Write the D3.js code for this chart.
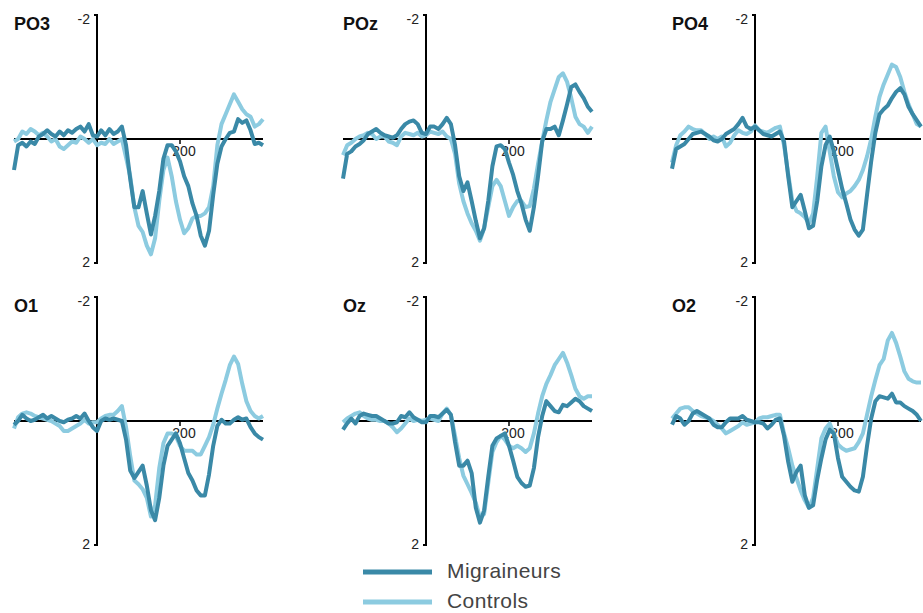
<!DOCTYPE html>
<html>
<head>
<meta charset="utf-8">
<script src="https://cdn.jsdelivr.net/npm/d3@7"></script>
<style>
  body { margin: 0; background: #fff; }
  svg { display: block; font-family: "Liberation Sans", Arial, sans-serif; }
</style>
</head>
<body>
<div id="chart"></div>
<script>
// ERP grand averages, Migraineurs vs Controls (negative up)

const width = 923;
const height = 613;

// sample times in ms, every 10 ms from -200 to 400
const times = d3.range(-200, 401, 10);

const channels = ["PO3", "POz", "PO4", "O1", "Oz", "O2"];
const groups = ["Migraineurs", "Controls"];
const xTicks = [200];
const yTicks = [-2, 2];

const po3Mig = [0.5,0.1,0.06,0.12,0.04,0.08,-0.04,-0.08,-0.14,-0.08,-0.04,-0.12,-0.06,-0.14,-0.1,-0.16,-0.2,-0.12,-0.24,-0.06,
  -0.04,-0.14,-0.06,-0.16,-0.08,-0.12,-0.2,0.1,0.64,1.1,1.1,0.84,1.2,1.54,1.24,0.84,0.32,0.1,0.1,0.2,
  0.36,0.6,0.76,1.04,1.24,1.56,1.72,1.48,0.9,0.4,0.12,0.0,-0.1,-0.12,-0.32,-0.26,-0.3,-0.14,0.08,0.06,0.1];
const po3Con = [0.04,0.0,-0.12,-0.08,-0.16,-0.12,-0.06,-0.1,-0.04,0.04,0.0,0.12,0.16,0.1,0.04,0.06,-0.04,0.0,0.06,0.0,
  0.1,0.06,0.08,0.0,0.08,0.04,0.0,0.3,0.6,1.1,1.4,1.5,1.72,1.86,1.6,1.0,0.5,0.3,0.6,1.0,
  1.3,1.52,1.44,1.28,1.24,1.24,1.2,1.1,0.76,0.1,-0.24,-0.4,-0.56,-0.72,-0.6,-0.48,-0.4,-0.36,-0.2,-0.24,-0.32];

const pozMig = [0.64,0.24,0.2,0.12,0.08,0.02,-0.08,-0.12,-0.16,-0.1,-0.06,-0.04,-0.02,-0.06,-0.16,-0.24,-0.28,-0.3,-0.24,-0.1,
  -0.08,-0.2,-0.2,-0.16,-0.24,-0.34,-0.24,0.1,0.6,0.84,0.7,1.0,1.32,1.6,1.44,1.0,0.44,0.12,0.1,0.16,
  0.38,0.58,0.84,1.04,1.3,1.48,1.1,0.6,0.04,-0.16,-0.16,-0.2,-0.06,-0.3,-0.56,-0.84,-0.88,-0.76,-0.66,-0.52,-0.44];
const pozCon = [0.26,0.1,0.06,0.0,-0.04,-0.06,-0.1,-0.08,0.0,-0.04,-0.04,0.04,0.06,0.1,-0.04,-0.1,-0.08,-0.06,-0.1,-0.04,
  -0.06,-0.12,-0.1,-0.08,-0.12,-0.04,0.0,0.24,0.72,1.0,1.2,1.36,1.48,1.64,1.44,1.1,0.76,0.66,0.76,1.0,
  1.24,1.1,1.0,1.0,1.1,1.08,0.8,0.4,0.04,-0.3,-0.6,-0.8,-1.0,-1.06,-0.92,-0.66,-0.36,-0.24,-0.2,-0.1,-0.2];

const po4Mig = [0.48,0.16,0.12,0.08,0.0,-0.08,-0.1,-0.12,-0.08,-0.04,0.02,0.04,0.0,-0.08,-0.12,-0.16,-0.24,-0.34,-0.2,-0.16,
  -0.2,-0.14,-0.08,-0.06,-0.04,-0.08,-0.12,0.04,0.6,1.1,1.0,0.9,1.16,1.44,1.4,1.0,0.44,0.1,-0.04,0.2,
  0.5,0.8,1.04,1.3,1.46,1.56,1.46,0.9,0.36,-0.1,-0.4,-0.48,-0.54,-0.66,-0.76,-0.82,-0.72,-0.52,-0.4,-0.3,-0.2];
const po4Con = [0.38,0.1,-0.06,-0.12,-0.2,-0.16,-0.14,-0.14,-0.08,0.0,-0.04,0.0,-0.04,0.12,0.06,-0.06,-0.14,-0.1,-0.08,-0.12,
  -0.22,-0.14,-0.12,-0.1,-0.14,-0.18,-0.2,0.1,0.56,1.0,1.16,1.2,1.26,1.36,1.2,0.6,-0.1,-0.2,0.2,0.6,
  0.86,0.94,0.88,0.84,0.76,0.66,0.5,0.28,0.0,-0.36,-0.68,-0.88,-1.04,-1.2,-1.16,-1.0,-0.76,-0.56,-0.4,-0.24,-0.2];

const o1Mig = [0.06,0.0,-0.1,-0.04,0.0,-0.02,-0.06,-0.1,-0.04,-0.08,-0.04,0.0,0.02,-0.02,-0.04,-0.08,-0.04,-0.12,0.0,0.1,
  0.16,0.0,-0.04,-0.02,-0.04,-0.02,0.0,0.3,0.8,0.92,0.82,0.72,1.04,1.44,1.6,1.24,0.72,0.4,0.3,0.2,
  0.36,0.6,0.84,0.96,1.12,1.2,1.2,0.86,0.4,0.08,-0.02,0.04,0.04,-0.02,-0.06,-0.02,-0.04,0.1,0.2,0.26,0.3];
const o1Con = [0.12,-0.06,-0.12,-0.14,-0.12,-0.08,-0.06,-0.04,-0.02,0.0,0.04,0.08,0.16,0.16,0.12,0.08,0.04,-0.02,0.04,0.02,
  0.02,-0.04,-0.08,-0.1,-0.1,-0.16,-0.24,0.1,0.56,0.96,1.02,1.1,1.24,1.54,1.36,0.76,0.36,0.2,0.2,0.24,
  0.4,0.48,0.48,0.48,0.54,0.54,0.4,0.26,0.06,-0.2,-0.44,-0.66,-0.9,-1.04,-0.92,-0.6,-0.32,-0.16,-0.08,-0.04,-0.08];

const ozMig = [0.14,0.04,-0.04,0.04,-0.08,-0.12,-0.1,-0.08,-0.08,-0.04,0.0,0.04,0.04,0.02,-0.08,-0.06,-0.14,-0.06,-0.02,0.02,
  0.02,-0.08,-0.08,-0.06,-0.12,-0.18,-0.1,0.34,0.72,0.72,0.64,0.84,1.4,1.64,1.44,0.9,0.4,0.28,0.24,0.2,
  0.4,0.64,0.9,1.0,1.06,1.04,0.76,0.26,-0.08,-0.32,-0.24,-0.16,-0.14,-0.26,-0.24,-0.3,-0.36,-0.32,-0.24,-0.2,-0.16];
const ozCon = [0.02,-0.04,-0.08,-0.12,-0.14,-0.08,-0.04,-0.02,-0.02,0.0,0.0,0.04,0.1,0.18,0.12,0.04,-0.04,0.0,-0.02,0.0,
  -0.02,-0.04,-0.02,0.0,-0.12,-0.2,-0.1,0.24,0.6,0.88,1.02,1.16,1.32,1.56,1.5,1.0,0.5,0.34,0.24,0.3,
  0.4,0.44,0.4,0.44,0.5,0.44,0.2,-0.12,-0.4,-0.6,-0.74,-0.9,-1.0,-1.1,-0.94,-0.74,-0.52,-0.4,-0.36,-0.4,-0.4];

const o2Mig = [0.06,-0.08,-0.04,0.06,0.0,-0.12,-0.16,-0.12,-0.08,-0.04,0.06,0.1,0.1,0.02,-0.04,-0.04,-0.04,-0.08,-0.02,0.0,
  0.02,0.02,0.04,0.12,0.06,-0.02,-0.04,0.24,0.66,0.98,0.82,0.72,1.2,1.4,1.36,0.94,0.6,0.3,0.14,0.2,
  0.6,0.9,0.98,1.06,1.12,1.14,0.9,0.4,-0.04,-0.32,-0.4,-0.38,-0.36,-0.44,-0.3,-0.3,-0.24,-0.2,-0.16,-0.1,0.0];
const o2Con = [-0.04,-0.12,-0.2,-0.22,-0.22,-0.16,-0.12,-0.08,-0.06,-0.04,0.0,0.06,0.12,0.2,0.16,0.12,0.08,0.02,0.06,0.04,
  0.02,-0.04,-0.06,-0.06,-0.08,-0.1,-0.1,0.2,0.44,0.72,0.92,1.12,1.28,1.4,1.24,0.76,0.28,0.12,0.04,0.2,
  0.38,0.44,0.48,0.46,0.44,0.34,0.2,-0.1,-0.4,-0.66,-0.9,-1.0,-1.3,-1.42,-1.26,-1.04,-0.8,-0.68,-0.64,-0.62,-0.62];

const migSeries = [po3Mig, pozMig, po4Mig, o1Mig, ozMig, o2Mig];
const conSeries = [po3Con, pozCon, po4Con, o1Con, ozCon, o2Con];

const colors = { Migraineurs: "#3a89a7", Controls: "#8ccbe0" };

const svg = d3.select("#chart")
  .append("svg")
  .attr("width", width)
  .attr("height", height);

const colStep = 329;
const rowStep = 282;

channels.forEach((name, i) => {
  const col = i % 3;
  const row = Math.floor(i / 3);
  const left = 14 + col * colStep;
  const top = 15 + row * rowStep;

  const x = d3.scaleLinear().domain([-200, 400]).range([left, left + 249]);
  const y = d3.scaleLinear().domain([-2, 2]).range([top, top + 248]);

  const g = svg.append("g");

  // zero line (time axis)
  g.append("line")
    .attr("x1", x(-200)).attr("x2", x(400))
    .attr("y1", y(0)).attr("y2", y(0))
    .attr("stroke", "#000").attr("stroke-width", 2);

  // tick at 200 ms
  g.selectAll(".xt")
    .data(xTicks)
    .enter()
    .append("line")
      .attr("x1", d => x(d)).attr("x2", d => x(d))
      .attr("y1", y(0)).attr("y2", y(0) + 5)
      .attr("stroke", "#000").attr("stroke-width", 1.5);

  g.selectAll(".xl")
    .data(xTicks)
    .enter()
    .append("text")
      .attr("x", d => x(d) + 4)
      .attr("y", y(0) + 17)
      .attr("text-anchor", "middle")
      .attr("font-size", "14px")
      .attr("fill", "#222")
      .text(d => d);

  // voltage axis at t = 0 with bracket ends
  g.append("path")
    .attr("d", `M${x(0) - 3},${y(-2)} H${x(0)} V${y(2)} H${x(0) - 3}`)
    .attr("fill", "none")
    .attr("stroke", "#000")
    .attr("stroke-width", 2);

  g.selectAll(".yl")
    .data(yTicks)
    .enter()
    .append("text")
      .attr("x", x(0) - 7)
      .attr("y", d => d < 0 ? y(d) + 9 : y(d) + 4)
      .attr("text-anchor", "end")
      .attr("font-size", "14px")
      .attr("fill", "#222")
      .text(d => d);

  // channel label
  g.append("text")
    .attr("x", left)
    .attr("y", top + 15)
    .attr("font-size", "18px")
    .attr("font-weight", "bold")
    .attr("fill", "#111")
    .text(name);

  const line = d3.line()
    .x((d, j) => x(times[j]))
    .y(d => y(d));

  g.append("path")
    .datum(conSeries[i])
    .attr("d", line)
    .attr("fill", "none")
    .attr("stroke", colors.Controls)
    .attr("stroke-width", 4)
    .attr("stroke-linejoin", "round");

  g.append("path")
    .datum(migSeries[i])
    .attr("d", line)
    .attr("fill", "none")
    .attr("stroke", colors.Migraineurs)
    .attr("stroke-width", 4)
    .attr("stroke-linejoin", "round");
});

// legend
const legend = svg.append("g");
groups.forEach((grp, k) => {
  const ly = 572 + k * 30;
  legend.append("line")
    .attr("x1", 363).attr("x2", 432)
    .attr("y1", ly).attr("y2", ly)
    .attr("stroke", colors[grp])
    .attr("stroke-width", 5);
  legend.append("text")
    .attr("x", 447)
    .attr("y", ly + 6)
    .attr("font-size", "21px")
    .attr("letter-spacing", "0.4px")
    .attr("fill", "#444")
    .text(grp);
});
</script>
</body>
</html>
